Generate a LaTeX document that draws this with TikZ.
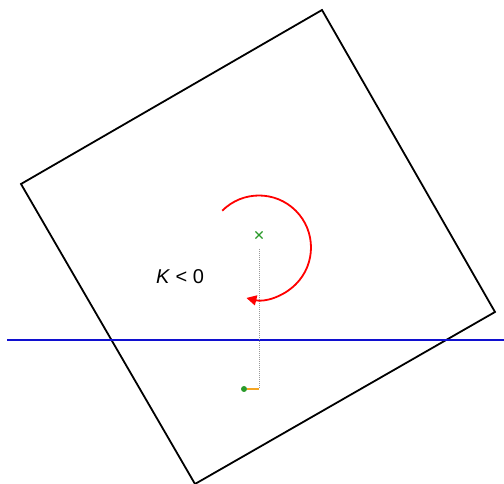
\documentclass[tikz,border=0pt]{standalone}
\usepackage{fontspec}
\setmainfont{Liberation Sans}
\usetikzlibrary{arrows.meta, shapes.misc, positioning}
\definecolor{refblue}{HTML}{1010D0}
\definecolor{markgreen}{HTML}{2A9A2A}
\definecolor{armorange}{HTML}{F5A623}
\tikzset{
  body/.style={draw=black, line width=1.8pt, line join=miter},
  ground/.style={draw=refblue, line width=1.2pt},
  spin/.style={-{Triangle[length=10pt, width=10pt]}, red, line width=1.8pt},
  axis/.style={draw=gray!80, densely dotted, line width=1pt},
  arm/.style={draw=armorange, line width=2pt},
  cmark/.style={cross out, draw=markgreen, line width=1.1pt,
    minimum size=6pt, inner sep=0pt},
  label/.style={font=\fontsize{20}{22}\selectfont}
}

\begin{document}
\begin{tikzpicture}[x=1pt, y=1pt]
  \useasboundingbox (0,0) rectangle (504,484);
  % rotated block
  \coordinate (ct) at (322,474);
  \coordinate (cr) at (495,172);
  \coordinate (cb) at (195,0);
  \coordinate (cl) at (21,300);
  \draw[body] (ct) -- (cr) -- (cb) -- (cl) -- cycle;
  % ground line
  \coordinate (gl) at (7,144);
  \coordinate (gr) at (504,144);
  \draw[ground] (gl) -- (gr);
  % centre of mass and pivot
  \node[cmark] (com) at (259,249) {};
  \coordinate (top) at (259,235);
  \coordinate (foot) at (259,95);
  \node[circle, fill=markgreen, inner sep=0pt, minimum size=6pt]
    (piv) at (244,95) {};
  \draw[axis] (top) -- (foot);
  \draw[arm] (piv) -- (foot);
  % rotation
  \coordinate (sc) at (259,236.5);
  \draw[spin] ([shift={(135:52)}]sc) arc[start angle=135, end angle=-104, radius=52];
  \node[label] (k) at (180,207) {\textit{K} < 0};
\end{tikzpicture}
\end{document}
